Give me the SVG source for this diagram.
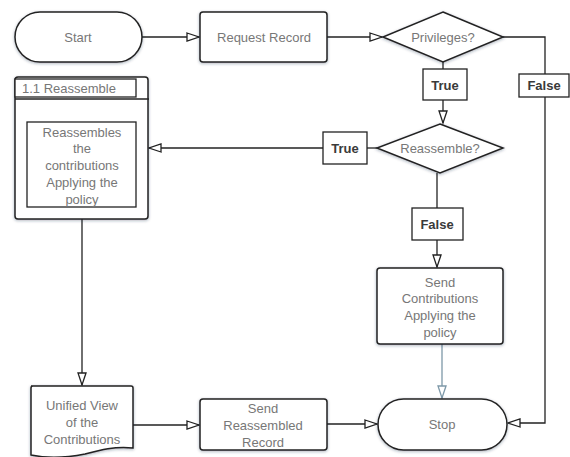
<svg xmlns="http://www.w3.org/2000/svg" width="570" height="457" viewBox="0 0 570 457">
<defs>
<filter id="sh" x="-10%" y="-10%" width="120%" height="130%">
<feDropShadow dx="0" dy="1" stdDeviation="1.5" flood-color="#1a2a40" flood-opacity="0.35"/>
</filter>
<marker id="arr" markerUnits="userSpaceOnUse" markerWidth="16" markerHeight="12" refX="13" refY="5" orient="auto">
<path d="M1,1 L13,5 L1,9 Z" fill="#fff" stroke="#222" stroke-width="1.3"/>
</marker>
<marker id="arrb" markerUnits="userSpaceOnUse" markerWidth="16" markerHeight="12" refX="13" refY="5" orient="auto">
<path d="M1,1 L13,5 L1,9 Z" fill="#fff" stroke="#7d98a8" stroke-width="1.3"/>
</marker>
</defs>
<style>
.s{fill:#fff;stroke:#222;stroke-width:1.5;filter:url(#sh)}
.b{fill:#fff;stroke:#222;stroke-width:1.3}
.t{font-family:"Liberation Sans",Arial,sans-serif;font-size:13px;fill:#777;text-anchor:middle}
.l{font-family:"Liberation Sans",Arial,sans-serif;font-size:13px;fill:#3a3a3a;text-anchor:middle;font-weight:bold}
.c{fill:none;stroke:#222;stroke-width:1.3}
</style>
<g id="connectors">
<path class="c" d="M142,37 H199" marker-end="url(#arr)"/>
<path class="c" d="M327,37 H382" marker-end="url(#arr)"/>
<path class="c" d="M443,62 V69"/>
<path class="c" d="M443,100 V123" marker-end="url(#arr)"/>
<path class="c" d="M503,37 H545 V74"/>
<path class="c" d="M545,97 V423 H508" marker-end="url(#arr)"/>
<path class="c" d="M377,148 H367"/>
<path class="c" d="M323,148 H149" marker-end="url(#arr)"/>
<path class="c" d="M437,173 V208"/>
<path class="c" d="M437,240 V267" marker-end="url(#arr)"/>
<path fill="none" stroke="#7d98a8" stroke-width="1.3" d="M442,344 V398" marker-end="url(#arrb)"/>
<path class="c" d="M82,219 V385" marker-end="url(#arr)"/>
<path class="c" d="M132,425 H199" marker-end="url(#arr)"/>
<path class="c" d="M327,424 H377" marker-end="url(#arr)"/>
</g>
<g id="start">
<rect class="s" x="15" y="12" width="127" height="50" rx="25"/>
<text class="t" x="78" y="42">Start</text>
</g>
<g id="request">
<rect class="s" x="200" y="12" width="127" height="50" rx="3"/>
<text class="t" x="264" y="42">Request Record</text>
</g>
<g id="privileges">
<path class="s" d="M443,12 L503,37 L443,62 L383,37 Z"/>
<text class="t" x="443" y="42">Privileges?</text>
</g>
<g id="true1">
<rect class="b" x="423" y="69" width="44" height="31"/>
<text class="l" x="445" y="90">True</text>
</g>
<g id="false1">
<rect class="b" x="519" y="74" width="50" height="23"/>
<text class="l" x="544" y="90">False</text>
</g>
<g id="reassembleq">
<path class="s" d="M440,124 L503,148 L440,173 L377,148 Z"/>
<text class="t" x="440" y="153">Reassemble?</text>
</g>
<g id="true2">
<rect class="b" x="323" y="132" width="44" height="32"/>
<text class="l" x="345" y="153">True</text>
</g>
<g id="false2">
<rect class="b" x="412" y="208" width="51" height="32"/>
<text class="l" x="437" y="229">False</text>
</g>
<g id="sendcontrib">
<rect class="s" x="377" y="268" width="126" height="76" rx="3"/>
<text class="t" x="440" y="287">Send</text>
<text class="t" x="440" y="303">Contributions</text>
<text class="t" x="440" y="320">Applying the</text>
<text class="t" x="440" y="337">policy</text>
</g>
<g id="stop">
<rect class="s" x="378" y="399" width="129" height="51" rx="25.5"/>
<text class="t" x="442" y="429">Stop</text>
</g>
<g id="reassemble">
<rect class="s" x="15" y="77" width="133" height="142" rx="3"/>
<path class="c" d="M15,99 H149"/>
<rect class="b" x="15" y="79" width="121" height="18"/>
<text class="t" x="22" y="93" style="text-anchor:start">1.1 Reassemble</text>
<rect class="b" x="27" y="122" width="109" height="85"/>
<text class="t" x="82" y="137">Reassembles</text>
<text class="t" x="82" y="153">the</text>
<text class="t" x="82" y="170">contributions</text>
<text class="t" x="82" y="187">Applying the</text>
<text class="t" x="82" y="204">policy</text>
</g>
<g id="unified">
<path class="s" d="M31,386 H131 Q133,386 133,388 V448 C115,446 100,450 85,454 C65,458 45,458 31,455 V388 Q31,386 33,386 Z"/>
<text class="t" x="82" y="410">Unified View</text>
<text class="t" x="82" y="427">of the</text>
<text class="t" x="82" y="444">Contributions</text>
</g>
<g id="sendreassembled">
<rect class="s" x="200" y="399" width="127" height="51" rx="3"/>
<text class="t" x="263" y="413">Send</text>
<text class="t" x="263" y="430">Reassembled</text>
<text class="t" x="263" y="447">Record</text>
</g>
</svg>
